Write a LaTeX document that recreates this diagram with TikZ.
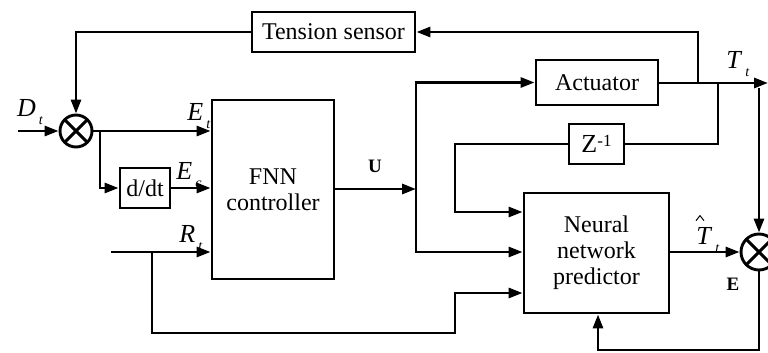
\documentclass[tikz,border=0pt]{standalone}
\usepackage{fontspec}
\setmainfont{Liberation Serif}
\usetikzlibrary{arrows.meta}
\newcommand{\sublbl}[2]{\textit{#1}\kern3pt\raisebox{-8pt}{\fontsize{14}{14}\selectfont\textit{#2}}}

\begin{document}
\begin{tikzpicture}[x=1pt,y=-1pt,line width=2.9pt,
    block/.style={draw,inner sep=0pt,align=center,font=\fontsize{24}{26}\selectfont},
    summer/.style={draw,circle,inner sep=0pt,minimum size=#1,
      path picture={\draw (path picture bounding box.north west) -- (path picture bounding box.south east)
        (path picture bounding box.south west) -- (path picture bounding box.north east);}},
    arr/.style={-{Triangle[length=14pt,width=10pt]}},
    lbl/.style={font=\fontsize{26}{28}\selectfont},
    mono/.style={font=\fontsize{19}{21}\selectfont\bfseries}]
  \useasboundingbox (0,0) rectangle (768,353);
  % blocks
  \node[summer=32pt] (sum1) at (76,131) {};
  \node[summer=36pt] (sum2) at (759,252) {};
  \node[block,minimum width=163pt,minimum height=40pt] (sensor) at (333.5,32) {Tension sensor};
  \node[block,minimum width=122pt,minimum height=179pt] (fnn) at (273,189.5) {FNN\\controller};
  \node[block,minimum width=50pt,minimum height=40pt] (ddt) at (145,188) {d/dt};
  \node[block,minimum width=122pt,minimum height=45pt] (act) at (597,82.5) {Actuator};
  \node[block,minimum width=55pt,minimum height=40pt] (zinv) at (596.5,144) {\fontsize{26}{26}\selectfont Z\raisebox{6pt}{\fontsize{17}{17}\selectfont -1}};
  \node[block,minimum width=145pt,minimum height=120pt] (nnp) at (596.5,253) {Neural\\network\\predictor};

  \coordinate (din) at (18,131);
  \coordinate (eb1) at (100,131);
  \coordinate (rin) at (111,252);
  \coordinate (rb1) at (152,252);
  \coordinate (rb2) at (455,333);
  \coordinate (uj) at (416,189);
  \coordinate (tout) at (768,83);
  \coordinate (tb1) at (698,83);
  \coordinate (tb2) at (718,83);
  \coordinate (zc) at (455,212);
  \coordinate (tfb) at (759,88);
  \coordinate (eb2) at (598,350);

  \draw[arr] (din) -- (sum1);
  \draw[arr] (sensor.west) -| (sum1.north);
  \draw[arr] (sum1.east) -- (fnn.west |- sum1);
  \draw[arr] (eb1) |- (ddt.west);
  \draw[arr] (ddt.east) -- (fnn.west |- ddt.east);
  \draw[arr] (rin) -- (fnn.west |- rin);
  \draw[arr] (rb1) |- (rb2) |- (nnp.west |- 0,293);
  \draw[arr] (fnn.east |- uj) -- (uj);
  \draw[arr] (uj) |- (act.west);
  \draw[arr] (uj) |- (nnp.west |- 0,252);
  \draw[arr] (act.east |- tout) -- (tout);
  \draw[arr] (tb1) |- (sensor.east);
  \draw (tb2) |- (zinv.east);
  \draw[arr] (zinv.west) -| (zc) -- (nnp.west |- zc);
  \draw[arr] (tfb) -- (sum2.north);
  \draw[arr] (nnp.east |- sum2) -- (sum2.west);
  \draw[arr] (sum2.south) |- (eb2) -- (eb2 |- nnp.south);

  \node[lbl] (dlbl) at (30,112) {\sublbl{D}{t}};
  \node[lbl] (etlbl) at (199,116) {\sublbl{E}{t}};
  \node[lbl] (eclbl) at (189,175) {\sublbl{E}{c}};
  \node[lbl] (rlbl) at (191,238) {\sublbl{R}{t}};
  \node[mono] (ulbl) at (375,166) {U};
  \node[lbl] (tlbl) at (738,64) {\sublbl{T}{t}};
  \node[lbl] (thlbl) at (708,240) {\sublbl{T}{t}};
  \draw[line width=1pt] ([xshift=-12pt,yshift=2pt]thlbl.north) -- ++(4pt,5pt) -- ++(4pt,-5pt);
  \node[mono] (elbl) at (733,284) {E};
\end{tikzpicture}
\end{document}
